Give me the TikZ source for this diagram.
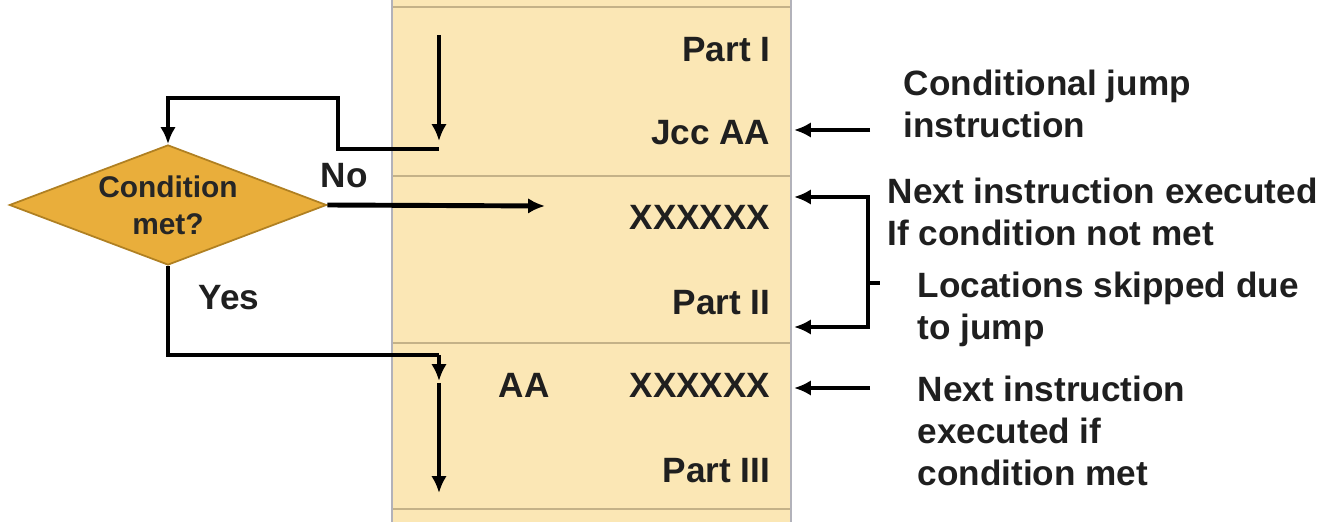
\documentclass[tikz,border=0pt]{standalone}
\usepackage{fontspec}
\setmainfont{Liberation Sans}
\usetikzlibrary{arrows.meta,shapes.geometric}
\definecolor{memfill}{RGB}{251,231,181}
\definecolor{memline}{RGB}{196,178,136}
\definecolor{memside}{RGB}{178,178,186}
\definecolor{condfill}{RGB}{233,174,59}
\definecolor{condline}{RGB}{176,128,34}

\begin{document}
\begin{tikzpicture}[x=0.01cm,y=-0.01cm,
    lbl/.style={font=\bfseries\fontsize{10}{12}\selectfont, inner sep=0pt, text=black!88},
    note/.style={lbl, align=left},
    flow/.style={line width=1.4pt, -{Latex[length=4.8pt,width=4.4pt]}},
    decision/.style={shape=diamond, aspect=2.64, fill=condfill, draw=condline, line width=0.5pt,
        minimum width=3.17cm, minimum height=1.2cm, inner sep=0pt, align=center,
        font=\bfseries\fontsize{8.5}{10.5}\selectfont, text=black!85}]
    %%%%% START %%%%%
    \useasboundingbox (0,0) rectangle (1336,522);

    % memory column
    \fill[memfill] (392,0) rectangle (791,522);
    \draw[memside, line width=0.8pt] (392,0) -- (392,522);
    \draw[memside, line width=0.8pt] (791,0) -- (791,522);
    \foreach \y in {7,176,343,509}
        \draw[memline, line width=0.8pt] (393,\y) -- (790,\y);

    \node[lbl, anchor=base east] (part1) at (771,62) {Part I};
    \node[lbl, anchor=base east] (jcc) at (771,145) {Jcc AA};
    \node[lbl, anchor=base east] (xxa) at (771,230) {XXXXXX};
    \node[lbl, anchor=base east] (part2) at (771,315) {Part II};
    \node[lbl, anchor=base west] (aa) at (498,398) {AA};
    \node[lbl, anchor=base east] (xxb) at (771,398) {XXXXXX};
    \node[lbl, anchor=base east] (part3) at (771,483) {Part III};

    % decision
    \node[decision] (cond) at (168,205) {Condition\\met?};
    \node[lbl, anchor=base west] (no) at (320,188) {No};
    \node[lbl, anchor=base west] (yes) at (198,310) {Yes};

    \coordinate (jtop) at (439,35);
    \coordinate (jbot) at (439,149);
    \coordinate (loop) at (338,98);
    \coordinate (noend) at (545,206);
    \coordinate (yesturn) at (439,355);
    \coordinate (aahit) at (439,381);
    \coordinate (aago) at (439,383);
    \coordinate (p3end) at (439,493);

    \draw[flow] (jtop) -- ++(0,106);
    \draw[flow] (jbot) -| (loop) -| (cond.north);
    \draw[flow] (cond.east) -- (noend);
    \draw[line width=1.4pt] (cond.south) |- (yesturn);
    \draw[flow] (yesturn) -- (aahit);
    \draw[flow] (aago) -- (p3end);

    % notes on the right (base = last line)
    \node[note, anchor=base west] (cjnote) at (903,138) {Conditional jump\\instruction};
    \node[note, anchor=base west] (nmnote) at (887,246) {Next instruction executed\\If condition not met};
    \node[note, anchor=base west] (sknote) at (917,340) {Locations skipped due\\to jump};
    \node[note, anchor=base west] (mtnote) at (917,486) {Next instruction\\executed if\\condition met};

    \coordinate (cjtail) at (870,130);
    \coordinate (cjhead) at (794,130);
    \coordinate (nmhead) at (794,197);
    \coordinate (brtop) at (868,197);
    \coordinate (brbot) at (868,327);
    \coordinate (p2head) at (794,327);
    \coordinate (brmid) at (868,283);
    \coordinate (brtick) at (880,283);
    \coordinate (mttail) at (870,388);
    \coordinate (mthead) at (794,388);

    \draw[flow] (cjtail) -- (cjhead);
    \draw[flow, {Latex[length=4.8pt,width=4.4pt]}-{Latex[length=4.8pt,width=4.4pt]}]
        (nmhead) -- (brtop) -- (brbot) -- (p2head);
    \draw[line width=1.4pt] (brmid) -- (brtick);
    \draw[flow] (mttail) -- (mthead);
    %%%%% END %%%%%
\end{tikzpicture}
\end{document}
